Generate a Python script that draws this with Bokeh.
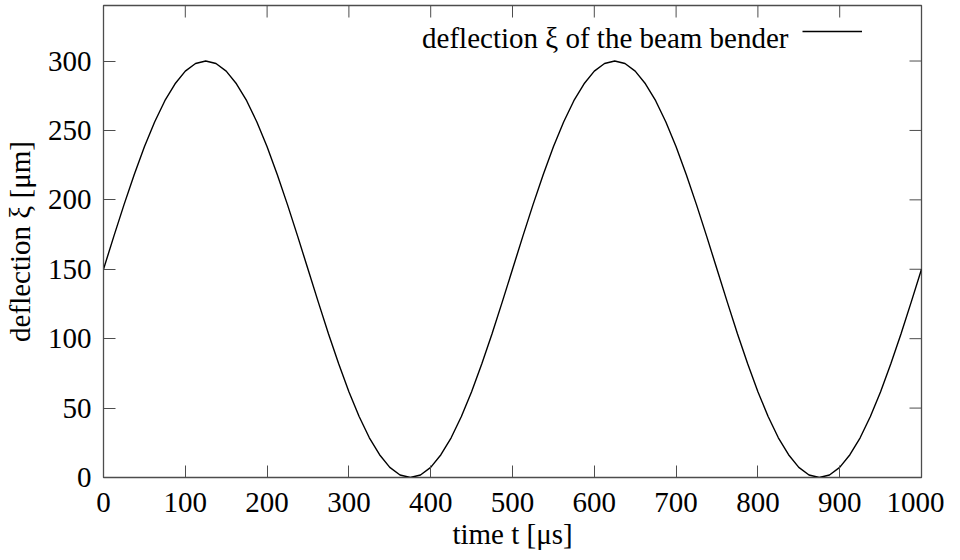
import math
from bokeh.plotting import figure
from bokeh.models import Range1d, FixedTicker, Label, Legend, LegendItem
from bokeh.embed import file_html
from bokeh.resources import INLINE

# time t [µs], sampled every 12.5 µs
t = [i * 12.5 for i in range(81)]
# deflection xi [µm]
xi = [150.0, 173.5, 196.4, 218.1, 238.2, 256.1, 271.4, 283.6, 292.7, 298.2,
      300.0, 298.2, 292.7, 283.6, 271.4, 256.1, 238.2, 218.1, 196.4, 173.5,
      150.0, 126.5, 103.6, 81.9, 61.8, 43.9, 28.6, 16.4, 7.3, 1.8,
      0.0, 1.8, 7.3, 16.4, 28.6, 43.9, 61.8, 81.9, 103.6, 126.5,
      150.0, 173.5, 196.4, 218.1, 238.2, 256.1, 271.4, 283.6, 292.7, 298.2,
      300.0, 298.2, 292.7, 283.6, 271.4, 256.1, 238.2, 218.1, 196.4, 173.5,
      150.0, 126.5, 103.6, 81.9, 61.8, 43.9, 28.6, 16.4, 7.3, 1.8,
      0.0, 1.8, 7.3, 16.4, 28.6, 43.9, 61.8, 81.9, 103.6, 126.5,
      150.0]

x_ticks = [0, 100, 200, 300, 400, 500, 600, 700, 800, 900, 1000]
y_ticks = [0, 50, 100, 150, 200, 250, 300]
X_MAX, Y_MAX = 1000, 340

FONT = "Liberation Serif"
FS = "29px"
FRAME_COL = "#4d4d4d"

p = figure(frame_width=818, frame_height=472,
           x_range=Range1d(0, X_MAX), y_range=Range1d(0, Y_MAX),
           output_backend="svg", toolbar_location=None,
           min_border_left=103, min_border_right=23,
           min_border_top=5, min_border_bottom=67,
           x_axis_label="time t [μs]", y_axis_label="deflection ξ [μm]")

p.grid.visible = False
p.outline_line_color = FRAME_COL
p.outline_line_width = 1.3
p.background_fill_color = "white"
p.border_fill_color = "white"

for ax, ticks in ((p.xaxis[0], x_ticks), (p.yaxis[0], y_ticks)):
    ax.ticker = FixedTicker(ticks=ticks)
    ax.major_tick_in = 12
    ax.major_tick_out = 0
    ax.minor_tick_line_color = None
    ax.major_tick_line_color = FRAME_COL
    ax.axis_line_color = FRAME_COL
    ax.major_label_text_font = FONT
    ax.major_label_text_font_size = FS
    ax.major_label_text_color = "black"
    ax.axis_label_text_font = FONT
    ax.axis_label_text_font_size = FS
    ax.axis_label_text_font_style = "normal"
    ax.axis_label_text_color = "black"

p.xaxis[0].major_label_standoff = 15
p.yaxis[0].major_label_standoff = 12
p.xaxis[0].axis_label_standoff = 3
p.yaxis[0].axis_label_standoff = 9

# mirrored inward ticks on top and right sides
p.ray(x=x_ticks, y=[Y_MAX] * len(x_ticks), length=12, length_units="screen",
      angle=-math.pi / 2, line_color=FRAME_COL, line_width=1)
p.ray(x=[X_MAX] * len(y_ticks), y=y_ticks, length=12, length_units="screen",
      angle=math.pi, line_color=FRAME_COL, line_width=1)

r = p.line(t, xi, line_color="black", line_width=1.4)

legend = Legend(items=[LegendItem(label=" ", renderers=[r])],
                location=(699, 436), margin=0, padding=0, spacing=0,
                label_standoff=0, glyph_width=60, glyph_height=20,
                label_text_font_size="1px",
                border_line_color=None, background_fill_alpha=0)
p.add_layout(legend, "center")

p.add_layout(Label(x=685, y=440, x_units="screen", y_units="screen",
                   text="deflection ξ of the beam bender",
                   text_align="right", text_baseline="alphabetic",
                   text_font=FONT, text_font_size=FS, text_color="black"))

open("out.html", "w").write(file_html(p, INLINE))
